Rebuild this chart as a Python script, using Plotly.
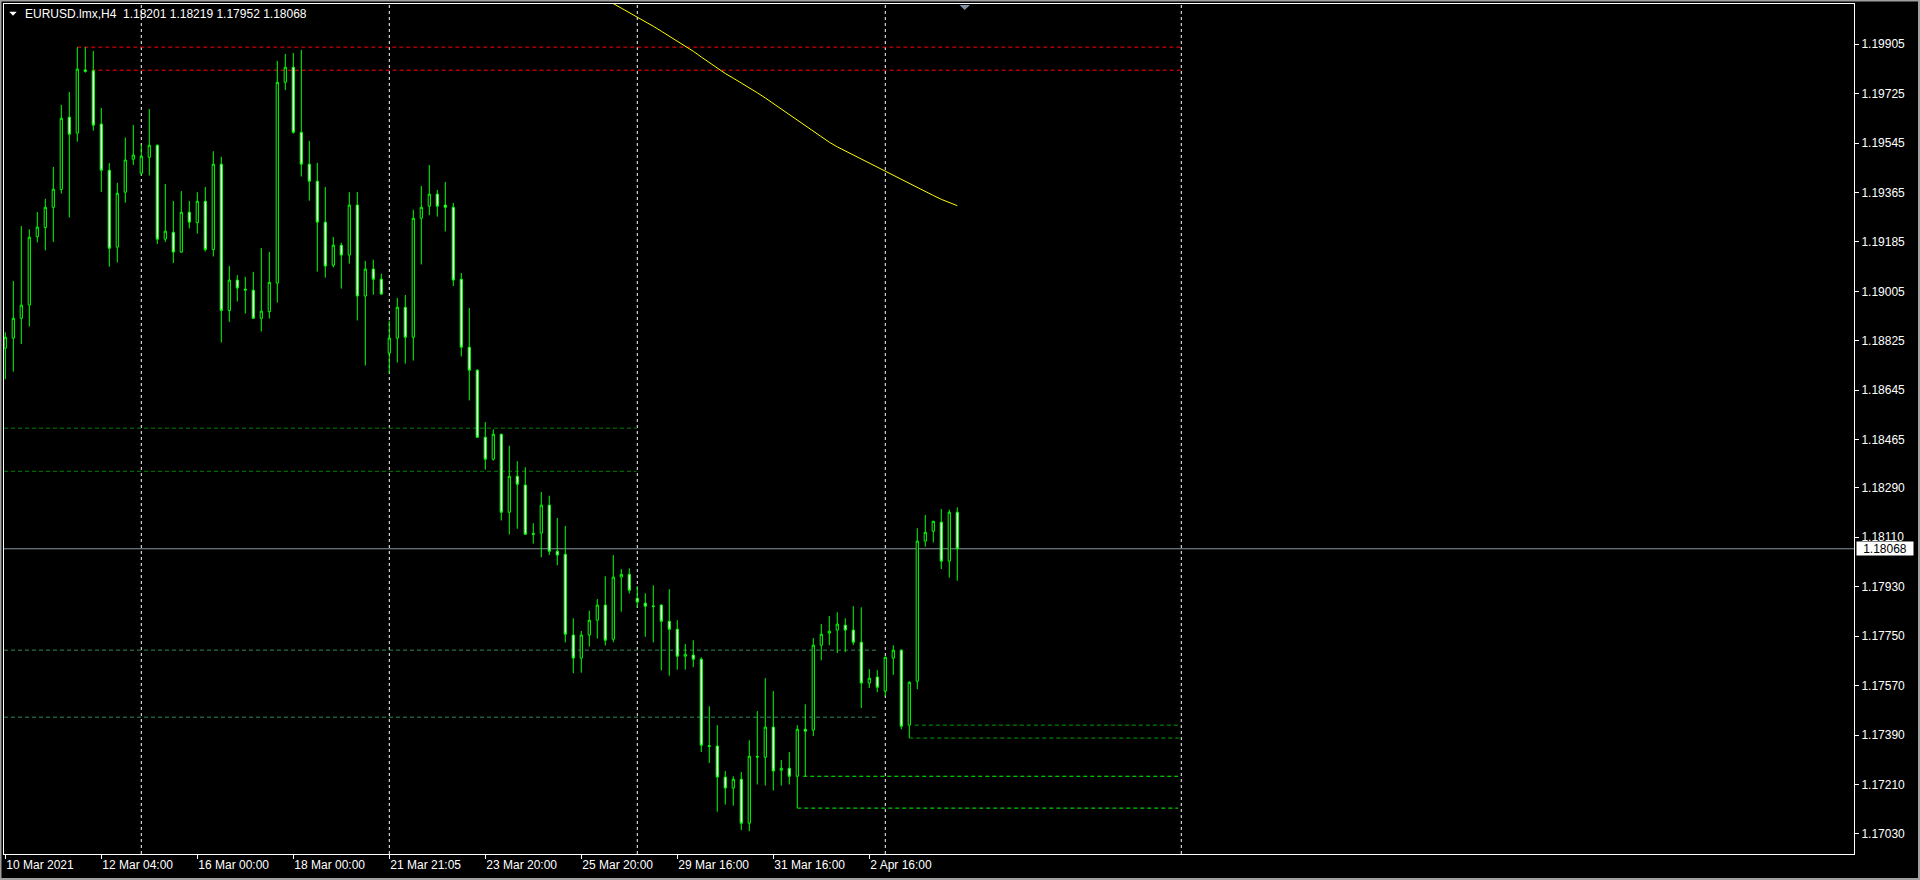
import plotly.graph_objects as go

# ---------------- data ----------------
opens = [1.18798, 1.18835, 1.18907, 1.18955, 1.19204, 1.19237, 1.19311, 1.19376, 1.19639, 1.19581,
         1.19811, 1.19808, 1.19614, 1.19446, 1.19166, 1.19366, 1.19486, 1.19435, 1.19493, 1.19537,
         1.19195, 1.19220, 1.19148, 1.19293, 1.19255, 1.19333, 1.19157, 1.19468, 1.18935, 1.19046,
         1.19013, 1.19009, 1.18907, 1.18931, 1.19035, 1.19766, 1.19821, 1.19584, 1.19468, 1.19406,
         1.19257, 1.19100, 1.19173, 1.19137, 1.19319, 1.18988, 1.19086, 1.19049, 1.18780, 1.18835,
         1.18947, 1.18838, 1.19271, 1.19315, 1.19359, 1.19319, 1.19311, 1.19049, 1.18802, 1.18718,
         1.18474, 1.18394, 1.18485, 1.18201, 1.18332, 1.18300, 1.18124, 1.18125, 1.18227, 1.18059,
         1.18048, 1.17754, 1.17670, 1.17754, 1.17808, 1.17863, 1.17739, 1.17965, 1.17975, 1.17888,
         1.17870, 1.17860, 1.17863, 1.17804, 1.17775, 1.17677, 1.17681, 1.17666, 1.17351, 1.17350,
         1.17237, 1.17197, 1.17229, 1.17069, 1.17312, 1.17309, 1.17419, 1.17262, 1.17269, 1.17240,
         1.17411, 1.17408, 1.17717, 1.17761, 1.17772, 1.17790, 1.17772, 1.17728, 1.17579, 1.17601,
         1.17550, 1.17670, 1.17699, 1.17426, 1.17586, 1.18096, 1.18132, 1.18165, 1.18023, 1.18201]
highs = [1.18856, 1.19043, 1.19243, 1.19231, 1.19294, 1.19342, 1.19458, 1.19684, 1.19731, 1.19894,
         1.19894, 1.19880, 1.19673, 1.19472, 1.19400, 1.19565, 1.19611, 1.19539, 1.19669, 1.19540,
         1.19396, 1.19334, 1.19370, 1.19334, 1.19366, 1.19385, 1.19515, 1.19495, 1.19098, 1.19064,
         1.19058, 1.19076, 1.19163, 1.19149, 1.19844, 1.19869, 1.19873, 1.19884, 1.19553, 1.19473,
         1.19385, 1.19203, 1.19182, 1.19366, 1.19367, 1.19116, 1.19120, 1.19069, 1.18898, 1.18981,
         1.18992, 1.19302, 1.19389, 1.19465, 1.19374, 1.19403, 1.19327, 1.19072, 1.18944, 1.18722,
         1.18529, 1.18503, 1.18487, 1.18443, 1.18387, 1.18365, 1.18161, 1.18275, 1.18261, 1.18180,
         1.18151, 1.17815, 1.17769, 1.17843, 1.17885, 1.17968, 1.18045, 1.17994, 1.17997, 1.17932,
         1.17906, 1.17935, 1.17866, 1.17921, 1.17808, 1.17721, 1.17735, 1.17673, 1.17495, 1.17426,
         1.17259, 1.17240, 1.17255, 1.17371, 1.17477, 1.17597, 1.17550, 1.17299, 1.17328, 1.17426,
         1.17502, 1.17743, 1.17794, 1.17823, 1.17837, 1.17815, 1.17859, 1.17855, 1.17630, 1.17626,
         1.17676, 1.17717, 1.17702, 1.17586, 1.18143, 1.18191, 1.18170, 1.18213, 1.18210, 1.18219]
lows = [1.18685, 1.18713, 1.18813, 1.18877, 1.19183, 1.19154, 1.19185, 1.19361, 1.19274, 1.19550,
        1.19801, 1.19590, 1.19367, 1.19095, 1.19110, 1.19328, 1.19465, 1.19427, 1.19427, 1.19177,
        1.19185, 1.19108, 1.19146, 1.19234, 1.19215, 1.19150, 1.19132, 1.18819, 1.18894, 1.18968,
        1.18924, 1.18905, 1.18859, 1.18906, 1.18964, 1.19738, 1.19579, 1.19423, 1.19335, 1.19077,
        1.19055, 1.19092, 1.19015, 1.19106, 1.18899, 1.18735, 1.18993, 1.18993, 1.18706, 1.18746,
        1.18742, 1.18753, 1.19103, 1.19282, 1.19277, 1.19223, 1.19024, 1.18768, 1.18608, 1.18472,
        1.18356, 1.18389, 1.18171, 1.18120, 1.18141, 1.18119, 1.18087, 1.18037, 1.18045, 1.18008,
        1.17727, 1.17615, 1.17617, 1.17712, 1.17741, 1.17716, 1.17728, 1.17839, 1.17905, 1.17855,
        1.17748, 1.17727, 1.17625, 1.17606, 1.17628, 1.17628, 1.17637, 1.17328, 1.17288, 1.17111,
        1.17137, 1.17133, 1.17044, 1.17040, 1.17210, 1.17206, 1.17188, 1.17206, 1.17210, 1.17124,
        1.17240, 1.17386, 1.17662, 1.17717, 1.17688, 1.17692, 1.17717, 1.17488, 1.17561, 1.17546,
        1.17532, 1.17609, 1.17411, 1.17379, 1.17557, 1.18076, 1.18091, 1.17994, 1.17963, 1.17952]
closes = [1.18838, 1.18907, 1.18955, 1.19202, 1.19239, 1.19311, 1.19377, 1.19635, 1.19577, 1.19814,
          1.19806, 1.19610, 1.19446, 1.19162, 1.19362, 1.19483, 1.19501, 1.19497, 1.19537, 1.19195,
          1.19224, 1.19148, 1.19293, 1.19257, 1.19333, 1.19157, 1.19468, 1.18935, 1.19046, 1.19017,
          1.19010, 1.18907, 1.18933, 1.19038, 1.19766, 1.19821, 1.19584, 1.19468, 1.19406, 1.19257,
          1.19097, 1.19173, 1.19137, 1.19319, 1.18988, 1.19086, 1.19049, 1.18995, 1.18835, 1.18947,
          1.18838, 1.19271, 1.19311, 1.19359, 1.19315, 1.19311, 1.19046, 1.18802, 1.18718, 1.18474,
          1.18394, 1.18485, 1.18201, 1.18332, 1.18303, 1.18121, 1.18121, 1.18227, 1.18059, 1.18045,
          1.17757, 1.17670, 1.17754, 1.17808, 1.17863, 1.17735, 1.17965, 1.17975, 1.17917, 1.17874,
          1.17859, 1.17858, 1.17804, 1.17775, 1.17677, 1.17684, 1.17666, 1.17353, 1.17349, 1.17237,
          1.17197, 1.17229, 1.17069, 1.17313, 1.17310, 1.17419, 1.17259, 1.17269, 1.17240, 1.17411,
          1.17404, 1.17717, 1.17757, 1.17768, 1.17794, 1.17772, 1.17728, 1.17579, 1.17597, 1.17564,
          1.17673, 1.17699, 1.17422, 1.17582, 1.18096, 1.18128, 1.18168, 1.18023, 1.18201, 1.18068]

# moving average (yellow), starting at bar ma_start
ma_start = 75
ma_values = [1.20069, 1.20053, 1.20037, 1.20021, 1.20005, 1.19987, 1.19970, 1.19952, 1.19934, 1.19917,
             1.19899, 1.19879, 1.19858, 1.19837, 1.19816, 1.19798, 1.19781, 1.19764, 1.19747, 1.19728,
             1.19709, 1.19689, 1.19669, 1.19647, 1.19626, 1.19607, 1.19587, 1.19568, 1.19548, 1.19531,
             1.19516, 1.19502, 1.19487, 1.19473, 1.19458, 1.19443, 1.19428, 1.19411, 1.19396, 1.19382,
             1.19367, 1.19354, 1.19340, 1.19328, 1.19317]

# horizontal zone levels (price, from bar, to bar); None = from the left edge
zone_levels = [1.19894, 1.19810, 1.18507, 1.18350, 1.17699, 1.17455, 1.17240, 1.17124, 1.17426, 1.17379]
zone_from = [9, 10.8, None, None, None, None, 99.75, 99, 113.7, 113]
zone_to = [147, 147, 78.9, 78.9, 108.9, 108.9, 146.6, 146.6, 147, 147]

separator_bars = [17, 48, 79, 110, 147]

x_tick_bars = [0, 12, 24, 36, 48, 60, 72, 84, 96, 108]
x_tick_text = ["10 Mar 2021", "12 Mar 04:00", "16 Mar 00:00", "18 Mar 00:00", "21 Mar 21:05",
               "23 Mar 20:00", "25 Mar 20:00", "29 Mar 16:00", "31 Mar 16:00", "2 Apr 16:00"]
y_tick_vals = [1.17030, 1.17210, 1.17390, 1.17570, 1.17750, 1.17930, 1.18110, 1.18290,
               1.18465, 1.18645, 1.18825, 1.19005, 1.19185, 1.19365, 1.19545, 1.19725, 1.19905]

symbol = "EURUSD.lmx,H4"
last_price = closes[-1]

# ---------------- styles ----------------
W, H = 1920, 880
PL, PR, PT, PB = 4, 1854, 4, 854          # plot area in pixels
X_RANGE = [-0.1625, 231.09]
Y_RANGE = [1.16957, 1.20051]
zone_colors = ["#ff0000", "#ff0000", "#008000", "#008000", "#2e8b57", "#2e8b57",
               "#00ff00", "#00ff00", "#00a000", "#00a000"]
FONT = "Liberation Sans, Arial, sans-serif"


def px2paper_x(px):
    return (px - PL) / (PR - PL)


def px2paper_y(py):
    return (PB - py) / (PB - PT)


idx = list(range(len(opens)))
fig = go.Figure()
fig.add_trace(go.Candlestick(
    x=idx, open=opens, high=highs, low=lows, close=closes,
    increasing=dict(line=dict(color="#00ff00", width=1), fillcolor="#000000"),
    decreasing=dict(line=dict(color="#00ff00", width=1), fillcolor="#ffffff"),
    whiskerwidth=0, hoverinfo="skip", showlegend=False))
fig.add_trace(go.Scatter(
    x=list(range(ma_start, ma_start + len(ma_values))), y=ma_values, mode="lines",
    line=dict(color="#ffff00", width=1), hoverinfo="skip", showlegend=False))

shapes = []
# current price line
shapes.append(dict(type="line", xref="paper", yref="y", x0=0, x1=1, y0=last_price, y1=last_price,
                   line=dict(color="#8a96a3", width=1), layer="below"))
# zone lines
for lvl, a, b, c in zip(zone_levels, zone_from, zone_to, zone_colors):
    shapes.append(dict(type="line", xref="x", yref="y", x0=X_RANGE[0] if a is None else a, x1=b,
                       y0=lvl, y1=lvl, line=dict(color=c, width=1, dash="4px,3px"), layer="below"))
# period separators
for s in separator_bars:
    shapes.append(dict(type="line", xref="x", yref="paper", x0=s, x1=s, y0=0, y1=1,
                       line=dict(color="#ffffff", width=1, dash="3px,3px"), layer="below"))
# title triangle
shapes.append(dict(type="path", xref="paper", yref="paper",
                   path="M {} {} L {} {} L {} {} Z".format(px2paper_x(9.3), px2paper_y(11.7),
                                                           px2paper_x(16.7), px2paper_y(11.7),
                                                           px2paper_x(13), px2paper_y(15.7)),
                   fillcolor="#ffffff", line=dict(width=0)))
# chart shift marker
shapes.append(dict(type="path", xref="paper", yref="paper",
                   path="M {} {} L {} {} L {} {} Z".format(px2paper_x(959.5), px2paper_y(5),
                                                           px2paper_x(970), px2paper_y(5),
                                                           px2paper_x(964.7), px2paper_y(10)),
                   fillcolor="#8090a4", line=dict(width=0)))
# outer window border
shapes.append(dict(type="rect", xref="paper", yref="paper",
                   x0=px2paper_x(0.5), x1=px2paper_x(W - 1), y0=px2paper_y(H - 1), y1=px2paper_y(0.5),
                   line=dict(color="#a0a0a0", width=2)))

annotations = [
    dict(xref="paper", yref="paper", x=px2paper_x(23), y=px2paper_y(14), xanchor="left", yanchor="middle",
         text=symbol + "\u00a0\u00a0" + " ".join(f"{v:.5f}" for v in (opens[-1], highs[-1], lows[-1], closes[-1])),
         showarrow=False, font=dict(family=FONT, size=12, color="#ffffff")),
    dict(xref="paper", yref="y", x=px2paper_x(1856), y=last_price, xanchor="left", yanchor="middle",
         text=f"{last_price:.5f}", showarrow=False, bgcolor="#ffffff", width=56, height=13,
         borderpad=0, align="center", font=dict(family=FONT, size=12, color="#000000")),
]

fig.update_layout(
    width=W, height=H,
    margin=dict(l=PL, r=W - PR, t=PT, b=H - PB, pad=0),
    paper_bgcolor="#000000", plot_bgcolor="#000000",
    boxgap=0.6,
    showlegend=False,
    shapes=shapes, annotations=annotations,
    xaxis=dict(range=X_RANGE, showgrid=False, zeroline=False, rangeslider=dict(visible=False),
               tickmode="array", tickvals=x_tick_bars, ticktext=x_tick_text,
               ticks="outside", ticklen=4, tickcolor="#ffffff", tickwidth=1,
               ticklabelposition="outside right",
               tickfont=dict(family=FONT, size=12, color="#ffffff"),
               showline=True, mirror=True, linecolor="#ffffff", linewidth=1, fixedrange=True),
    yaxis=dict(range=Y_RANGE, side="right", showgrid=False, zeroline=False,
               tickmode="array", tickvals=y_tick_vals, ticktext=[f"{v:.5f}" for v in y_tick_vals],
               ticks="outside", ticklen=4, tickcolor="#ffffff", tickwidth=1,
               tickfont=dict(family=FONT, size=12, color="#ffffff"),
               showline=True, mirror=True, linecolor="#ffffff", linewidth=1, fixedrange=True),
)

fig.write_html("out.html", config={"displayModeBar": False},
               post_script="document.body.style.margin='0';document.body.style.padding='0';"
                           "document.body.style.overflow='hidden';document.body.style.background='#000';")
